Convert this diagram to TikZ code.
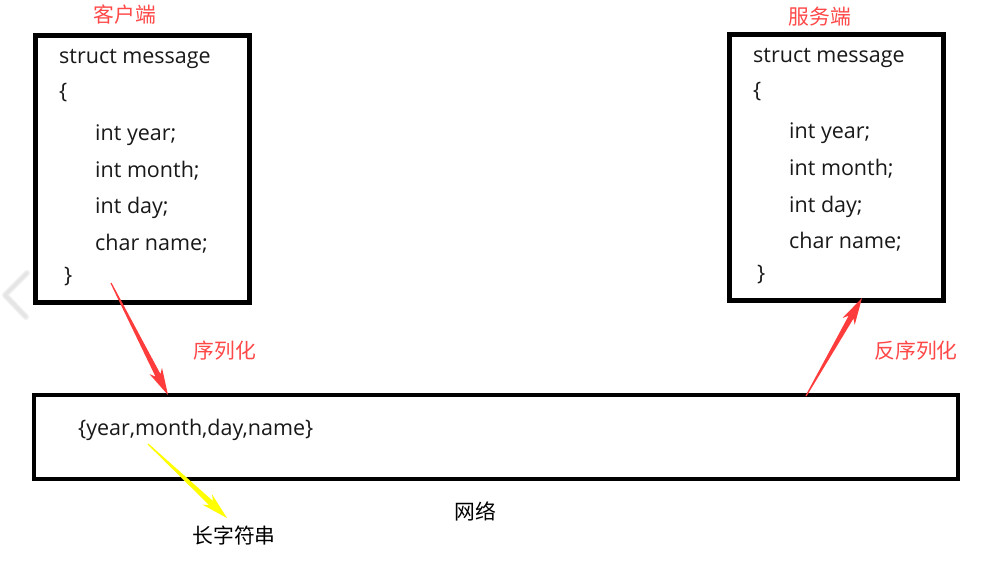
\documentclass[tikz,border=0pt]{standalone}
\usepackage{fontspec}
\setmainfont{Open Sans}
\newfontfamily\cjk{Noto Sans CJK SC}
\usetikzlibrary{calc}
\definecolor{lred}{RGB}{255,72,72}
\definecolor{ared}{RGB}{255,60,60}
\definecolor{ayel}{RGB}{255,255,0}
\tikzset{
  box/.style={draw=black,line width=5pt},
  netbox/.style={draw=black,line width=4pt},
  code/.style={anchor=base west,inner sep=0pt,font=\fontsize{21.5}{24}\selectfont,text=black!90},
  cnlabel/.style={inner sep=0pt,font=\cjk\fontsize{20.8}{23}\selectfont},
}
% tapered arrow: #1 start, #2 tip, #3 colour
\newcommand{\taparrow}[3]{%
  \coordinate (tmpN) at ($(#2)!22pt!(#1)$);
  \coordinate (tmpB) at ($(#2)!27pt!(#1)$);
  \fill[#3] ($(#1)!0.6pt!90:(#2)$) -- ($(tmpN)!2.8pt!-90:(#1)$)
     -- ($(tmpB)!7pt!-90:(#1)$) -- (#2) -- ($(tmpB)!7pt!90:(#1)$)
     -- ($(tmpN)!2.8pt!90:(#1)$) -- ($(#1)!0.6pt!-90:(#2)$) -- cycle;
}
\begin{document}
\begin{tikzpicture}[x=1pt,y=-1pt]
\useasboundingbox[fill=white] (0,0) rectangle (995,560);
% viewer chevron artifact
\draw[black!6,line width=6pt,line cap=round,line join=round] (27,273) -- (5,295) -- (26,317);
\draw[black!10,line width=3.5pt,line cap=round,line join=round] (27,273) -- (5,295) -- (26,317);
% boxes
\draw[box] (35.5,35.5) rectangle (249,302.5);
\draw[box] (729.5,34.5) rectangle (943.5,300.5);
\draw[netbox] (33.5,395) rectangle (958,479);
% client code
\node[code] (l1) at (59,63) {struct message};
\node[code] (l2) at (59,98) {\{};
\node[code] (l3) at (95,140) {int year;};
\node[code] (l4) at (95,177) {int month;};
\node[code] (l5) at (95,213) {int day;};
\node[code] (l6) at (95,250) {char name;};
\node[code] (l7) at (64,282) {\}};
% server code
\node[code] (r1) at (753,62) {struct message};
\node[code] (r2) at (753,97) {\{};
\node[code] (r3) at (789,138) {int year;};
\node[code] (r4) at (789,175) {int month;};
\node[code] (r5) at (789,212) {int day;};
\node[code] (r6) at (789,248) {char name;};
\node[code] (r7) at (757,280) {\}};
% network content
\node[code] (ser) at (78,435) {\{year,month,day,name\}};
% labels
\node[cnlabel,text=lred] (client) at (125,15) {客户端};
\node[cnlabel,text=lred] (server) at (820,17) {服务端};
\node[cnlabel,text=lred] (serl) at (225,351) {序列化};
\node[cnlabel,text=lred] (deserl) at (916,351) {反序列化};
\node[cnlabel,text=black] (net) at (475,511) {网络};
\node[cnlabel,text=black] (longstr) at (234,536) {长字符串};
% arrows
\coordinate (a1s) at (111,283);
\coordinate (a1t) at (168,395);
\coordinate (a2s) at (806,396);
\coordinate (a2t) at (862,298);
\coordinate (a3s) at (148,444);
\coordinate (a3t) at (227,518);
\taparrow{a1s}{a1t}{ared}
\taparrow{a2s}{a2t}{ared}
\taparrow{a3s}{a3t}{ayel}
\end{tikzpicture}
\end{document}
